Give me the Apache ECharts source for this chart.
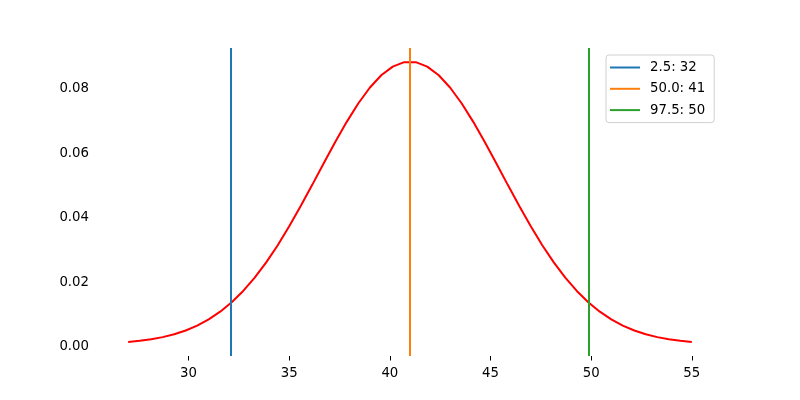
<!DOCTYPE html>
<html>
<head>
<meta charset="utf-8">
<script src="https://cdn.jsdelivr.net/npm/echarts@6/dist/echarts.min.js"></script>
<style>html,body{margin:0;padding:0;background:#fff}#c{width:800px;height:400px}</style>
</head>
<body>
<div id="c"></div>
<script>
// Curve sample points (x) and density values (y)
const curveX = [27.000,27.571,28.143,28.714,29.286,29.857,30.429,31.000,31.571,32.143,
  32.714,33.286,33.857,34.429,35.000,35.571,36.143,36.714,37.286,37.857,
  38.429,39.000,39.571,40.143,40.714,41.286,41.857,42.429,43.000,43.571,
  44.143,44.714,45.286,45.857,46.429,47.000,47.571,48.143,48.714,49.286,
  49.857,50.429,51.000,51.571,52.143,52.714,53.286,53.857,54.429,55.000];
const curveY = [0.00076,0.00111,0.00159,0.00226,0.00315,0.00432,0.00584,0.00777,0.01017,0.01310,
  0.01662,0.02074,0.02548,0.03083,0.03669,0.04299,0.04958,0.05627,0.06289,0.06915,
  0.07485,0.07974,0.08363,0.08632,0.08770,0.08770,0.08632,0.08363,0.07974,0.07485,
  0.06915,0.06289,0.05627,0.04958,0.04299,0.03669,0.03083,0.02548,0.02074,0.01662,
  0.01310,0.01017,0.00777,0.00584,0.00432,0.00315,0.00226,0.00159,0.00111,0.00076];
// Percentile lines
const pctNames = ['2.5: 32', '50.0: 41', '97.5: 50'];
const pctValues = [32.10, 41.00, 49.88];
const pctColors = ['#1f77b4', '#ff7f0e', '#2ca02c'];
// Axis ticks
const xTicks = [30, 35, 40, 45, 50, 55];
const yTicks = [0, 0.02, 0.04, 0.06, 0.08];
const xRange = [25.6, 56.4];
const yRange = [-0.0036, 0.0921];

const font = 'DejaVu Sans';
const chart = echarts.init(document.getElementById('c'), null, {renderer: 'canvas'});
const series = [{
  type: 'line',
  name: 'pdf',
  data: curveX.map((x, i) => [x, curveY[i]]),
  showSymbol: false,
  lineStyle: {color: '#ff0000', width: 2},
  itemStyle: {color: '#ff0000'},
  z: 2,
  silent: true
}];
pctNames.forEach((n, i) => {
  series.push({
    type: 'line',
    name: n,
    data: [],
    color: pctColors[i],
    itemStyle: {color: pctColors[i]},
    lineStyle: {color: pctColors[i], width: 2},
    z: 3,
    markLine: {
      silent: true,
      symbol: 'none',
      animation: false,
      label: {show: false},
      lineStyle: {color: pctColors[i], width: 2, type: 'solid'},
      emphasis: {disabled: true},
      data: [{xAxis: pctValues[i]}]
    }
  });
});

chart.setOption({
  animation: false,
  backgroundColor: '#fff',
  grid: {left: 100, right: 80, top: 48, bottom: 44, containLabel: false},
  xAxis: {
    type: 'value', min: xRange[0], max: xRange[1],
    axisLine: {show: false, onZero: false},
    splitLine: {show: false},
    axisTick: {show: true, length: 4.5, customValues: xTicks, lineStyle: {color: '#000', width: 1}},
    axisLabel: {customValues: xTicks, margin: 11.5, color: '#000', fontFamily: font, fontSize: 13.3}
  },
  yAxis: {
    type: 'value', min: yRange[0], max: yRange[1],
    axisLine: {show: false, onZero: false},
    splitLine: {show: false},
    axisTick: {show: false},
    axisLabel: {customValues: yTicks, margin: 11, color: '#000', fontFamily: font, fontSize: 13.3,
      formatter: v => '{t|' + v.toFixed(2) + '}',
      rich: {t: {color: '#000', fontFamily: font, fontSize: 13.3, padding: [4, 0, 0, 0]}}}
  },
  legend: {
    data: pctNames.map(n => ({name: n, icon: 'rect'})),
    orient: 'vertical',
    left: 606, top: 55,
    itemWidth: 30, itemHeight: 2,
    itemGap: 8.3,
    padding: [6, 9, 6, 4],
    backgroundColor: '#fff',
    borderColor: '#d0d0d0', borderWidth: 1, borderRadius: 3,
    textStyle: {color: '#000', fontFamily: font, fontSize: 13.3, padding: [0, 0, 0, 5]},
    selectedMode: false
  },
  series: series
});
</script>
</body>
</html>
